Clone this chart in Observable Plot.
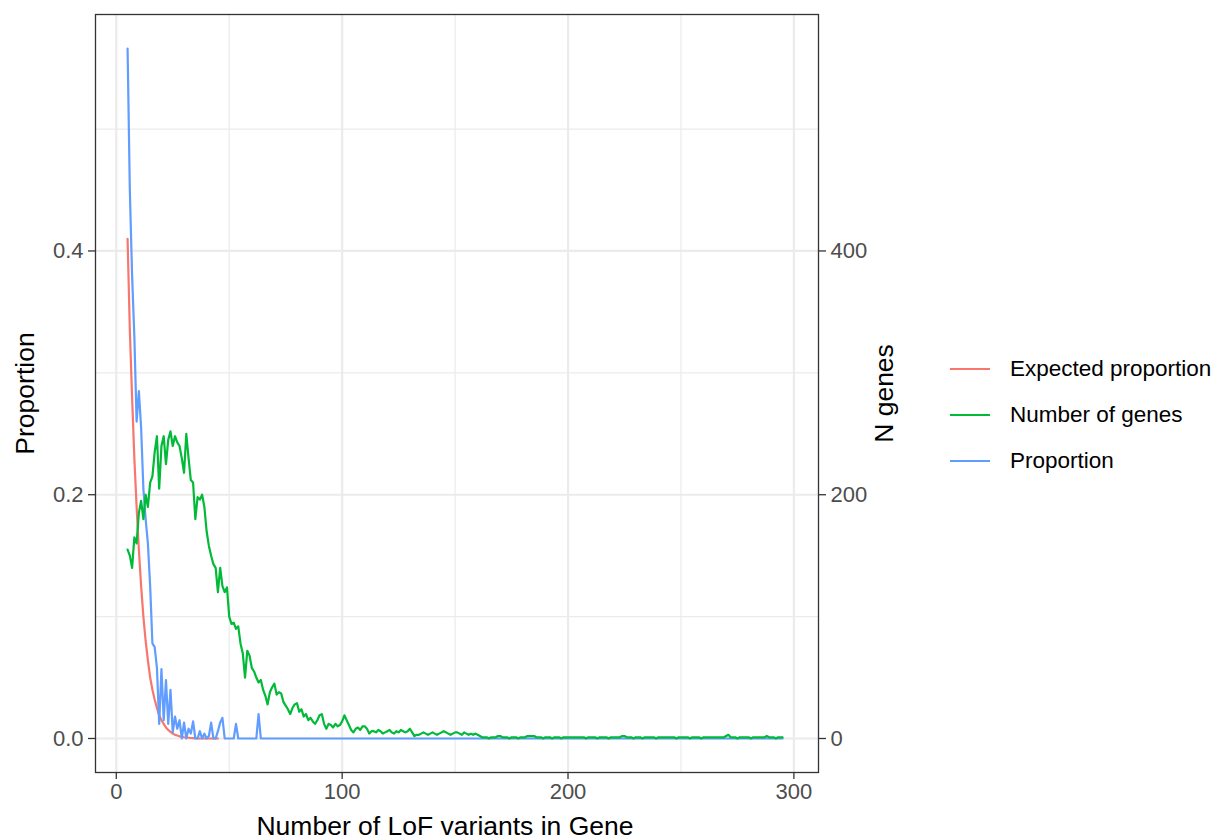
<!DOCTYPE html>
<html><head><meta charset="utf-8">
<script src="https://cdn.jsdelivr.net/npm/d3@7"></script>
<script src="https://cdn.jsdelivr.net/npm/@observablehq/plot@0.6"></script>
<style>
body{margin:0;background:#fff;font-family:"Liberation Sans",Arial,sans-serif;}
#wrap{position:relative;width:1217px;height:840px;}
#legend{position:absolute;left:950px;top:346px;}
.item{display:flex;align-items:center;height:46px;}
.sw{width:40px;height:2.5px;margin-right:20px;}
.lab{font-size:22.5px;color:#000;white-space:nowrap;}
</style></head><body>
<div id="wrap"><div id="legend"></div></div>
<script>
// ---- data ----
const firstCount = 5; // number of LoF variants of the first point
const seriesNames = ["Expected proportion", "Number of genes", "Proportion"];
const seriesColors = ["#F8766D", "#00BA38", "#619CFF"];

const expectedProportion = [
  0.41,0.335,0.28,0.23,0.19,0.155,0.125,0.1,0.08,0.064,
  0.05,0.04,0.032,0.025,0.019,0.015,0.012,0.009,0.007,0.0055,
  0.004,0.003,0.0024,0.0018,0.0014,0.001,0.0008,0.0006,0.0004,0.0003,
  0.0002,0.0001,0,0,0,0,0,0,0,0,0
];

const proportion = [
  0.566,0.45,0.38,0.33,0.26,0.285,0.255,0.205,0.18,0.16,
  0.125,0.078,0.075,0.058,0.012,0.057,0.015,0.048,0.012,0.04,
  0.005,0.018,0.008,0.015,0,0.013,0,0.008,0.004,0.014,
  0,0,0.006,0,0.004,0,0.002,0.013,0,0,
  0.006,0.013,0.017,0,0,0,0,0,0.012,0,
  0,0,0,0,0,0,0,0,0.02,0,
  0,0,0,0,0,0,0,0,0,0,
  0,0,0,0,0,0,0,0,0,0,
  0,0,0,0,0,0,0,0,0,0,
  0,0,0,0,0,0,0,0,0,0,
  0,0,0,0,0,0,0,0,0,0,
  0,0,0,0,0,0,0,0,0,0,
  0,0,0,0,0,0,0,0,0,0,
  0,0,0,0,0,0,0,0,0,0,
  0,0,0,0,0,0,0,0,0,0,
  0,0,0,0,0,0,0,0,0,0,
  0,0,0,0,0,0,0,0,0,0,
  0,0,0,0,0,0,0,0,0,0,
  0,0,0,0,0,0,0,0,0,0,
  0,0,0,0,0,0,0,0,0,0,
  0,0,0,0,0,0,0,0,0,0,
  0,0,0,0,0,0,0,0,0,0,
  0,0,0,0,0,0,0,0,0,0,
  0,0,0,0,0,0,0,0,0,0,
  0,0,0,0,0,0,0,0,0,0,
  0,0,0,0,0,0,0,0,0,0,
  0,0,0,0,0,0,0,0,0,0,
  0,0,0,0,0,0,0,0,0,0,
  0,0,0,0,0,0,0,0,0,0,
  0
];

const numberOfGenes = [
  155,150,140,165,160,185,195,180,200,190,
  210,215,235,248,205,240,248,225,245,252,
  240,248,243,240,230,218,250,230,212,210,
  180,198,196,200,190,170,158,150,143,140,
  120,140,125,120,124,100,94,95,90,92,
  78,70,50,72,68,58,55,50,46,48,
  40,35,28,38,42,45,36,38,37,30,
  27,24,20,25,28,29,22,24,18,20,
  15,17,14,12,15,19,20,12,8,12,
  11,9,12,10,11,14,19,15,11,7,
  5,8,9,7,10,10,8,4,6,6,
  5,7,6,4,5,6,7,5,4,6,
  5,7,6,5,6,8,5,2,3,
  3,4,5,4,3,4,5,4,3,4,
  5,6,5,4,3,4,5,5,4,3,
  5,4,3,4,3,4,3,2,1,
  1,1,0,1,1,1,2,2,1,1,
  1,0,1,1,1,0,1,1,1,2,
  2,2,2,1,1,1,0,1,1,1,
  0,1,1,1,0,1,1,1,1,1,
  1,1,1,1,1,0,1,1,1,1,
  0,1,1,1,1,0,1,1,1,1,
  1,2,2,1,1,1,0,1,1,1,
  0,1,1,1,1,1,0,1,1,1,
  1,1,1,1,1,0,1,1,1,1,
  1,0,1,1,1,1,0,1,1,1,
  1,1,1,1,1,1,1,2,3,1,
  1,1,0,1,1,1,1,1,0,1,
  1,1,1,1,1,2,1,1,1,0,
  1,1,1
];

const xTicks = [0, 100, 200, 300];
const xMinor = [50, 150, 250];
const yTicks = [0, 0.2, 0.4];
const yMinor = [0.1, 0.3, 0.5];
const genesPerUnit = 1000; // secondary axis: N genes = proportion * 1000

// ---- tidy rows ----
const expRows = expectedProportion.map((v, i) => ({x: firstCount + i, y: v}));
const propRows = proportion.map((v, i) => ({x: firstCount + i, y: v}));
const geneRows = numberOfGenes.map((v, i) => ({x: firstCount + i, n: v}));

const font = "Liberation Sans, Arial, Helvetica, sans-serif";
const lw = 2.2;

const plot = Plot.plot({
  width: 1217, height: 840,
  marginLeft: 95, marginRight: 399, marginTop: 14, marginBottom: 68,
  style: {fontFamily: font, background: "white"},
  x: {domain: [-9.2, 310.9]},
  y: {domain: [-0.0279, 0.594]},
  marks: [
    Plot.ruleY(yMinor, {stroke: "#EBEBEB", strokeWidth: 1.2}),
    Plot.ruleX(xMinor, {stroke: "#EBEBEB", strokeWidth: 1.2}),
    Plot.ruleY(yTicks, {stroke: "#EBEBEB", strokeWidth: 2.2}),
    Plot.ruleX(xTicks, {stroke: "#EBEBEB", strokeWidth: 2.2}),
    Plot.line(expRows, {x: "x", y: "y", stroke: seriesColors[0], strokeWidth: lw}),
    Plot.line(propRows, {x: "x", y: "y", stroke: seriesColors[2], strokeWidth: lw}),
    Plot.line(geneRows, {x: "x", y: d => d.n / genesPerUnit, stroke: seriesColors[1], strokeWidth: lw}),
    Plot.frame({stroke: "#333333", strokeWidth: 1.3}),
    Plot.axisX(xTicks, {anchor: "bottom", tickSize: 7, tickPadding: 4, fontSize: 22,
      fill: "#4D4D4D", stroke: "#333333", strokeWidth: 1.3,
      label: "Number of LoF variants in Gene", labelAnchor: "center", labelArrow: "none", labelOffset: 62}),
    Plot.axisY(yTicks, {anchor: "left", tickSize: 7, tickPadding: 5, fontSize: 22,
      fill: "#4D4D4D", stroke: "#333333", strokeWidth: 1.3, tickFormat: d3.format(".1f"),
      label: "Proportion", labelAnchor: "center", labelArrow: "none", labelOffset: 80}),
    Plot.axisY(yTicks, {anchor: "right", tickSize: 7, tickPadding: 5, fontSize: 22,
      fill: "#4D4D4D", stroke: "#333333", strokeWidth: 1.3, tickFormat: d => String(Math.round(d * genesPerUnit)),
      label: "N genes", labelAnchor: "center", labelArrow: "none", labelOffset: 74})
  ]
});

d3.select(plot).selectAll('g[aria-label$="axis label"]').attr("font-size", 26.5).attr("fill", "#000");
d3.select(plot).selectAll('g[aria-label$="axis label"] text').attr("font-size", 26.5).attr("fill", "#000");
const xLabel = d3.select(plot).select('g[aria-label="x-axis label"]');
xLabel.attr("transform", "translate(-12,0) " + (xLabel.attr("transform") || ""));

document.getElementById("wrap").prepend(plot);

const legend = d3.select("#legend");
seriesNames.forEach((name, i) => {
  const item = legend.append("div").attr("class", "item");
  item.append("div").attr("class", "sw").style("background", seriesColors[i]);
  item.append("div").attr("class", "lab").text(name);
});
</script>
</body></html>
